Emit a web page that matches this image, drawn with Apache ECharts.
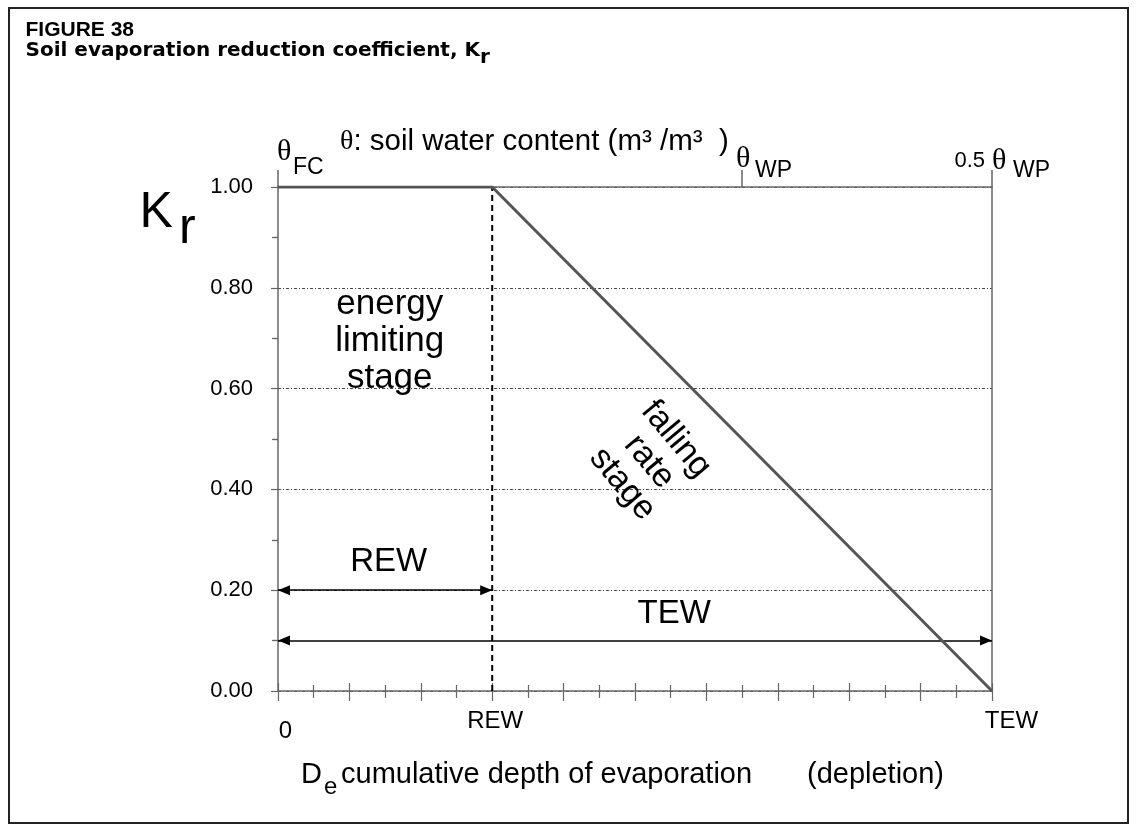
<!DOCTYPE html>
<html>
<head>
<meta charset="utf-8">
<script src="https://cdn.jsdelivr.net/npm/echarts@6/dist/echarts.min.js"></script>
<style>
  html, body { margin: 0; padding: 0; background: #fff; }
  #chart { width: 1136px; height: 831px; }
</style>
</head>
<body>
<div id="chart"></div>
<script>
const SANS = 'Liberation Sans, Arial, Helvetica, sans-serif';
const SERIF = 'Liberation Serif, Times New Roman, serif';
const AXIS_GRAY = '#666';

// Evaporation reduction curve: Kr stays at 1 until REW is depleted, then falls linearly to 0 at TEW
const REW = 6;
const TEW = 20;
const depletion = [0, REW, TEW];
const krValues = [1.0, 1.0, 0.0];

// Labels on the depletion axis
const xLabelValues = [0, REW, TEW];
const xLabelTexts = ['0', 'REW', 'TEW'];

// Kr axis
const yTickStep = 0.2;

// Soil water content marks along the top edge
const thetaValues = [0, 13, TEW];
const thetaPrefix = ['', '', '0.5'];
const thetaSubs = ['FC', 'WP', 'WP'];

// Range arrows: Kr level and depletion span of each
const arrowLevels = [0.2, 0.1];
const arrowEnds = [REW, TEW];

const chart = echarts.init(document.getElementById('chart'), null, { renderer: 'canvas' });

const xLabelRich = {
  s0: { fontSize: 24, fontFamily: SANS, color: '#000', padding: [10, 0, 0, 15] },
  s1: { fontSize: 24, fontFamily: SANS, color: '#000', padding: [0, 0, 0, 6] },
  s2: { fontSize: 24, fontFamily: SANS, color: '#000', padding: [0, 0, 0, 39] }
};

// Text placed inside the plot, anchored in data coordinates
const notes = [
  { at: [3.1, 0.256], text: 'REW', size: 33, rotate: 0, lh: 33 },
  { at: [11.1, 0.152], text: 'TEW', size: 33, rotate: 0, lh: 33 },
  { at: [3.13, 0.694], text: 'energy\nlimiting\nstage', size: 35, rotate: 0, lh: 37 },
  { at: [10.4, 0.455], text: 'falling\nrate\nstage', size: 34, rotate: -50, lh: 35 }
];

const option = {
  animation: false,
  backgroundColor: '#fff',
  grid: { left: 278, right: 144, top: 187, bottom: 140, containLabel: false },
  xAxis: [
    {
      type: 'value', position: 'bottom', min: 0, max: TEW, interval: 2, z: 3,
      axisLine: { show: true, onZero: false, lineStyle: { color: AXIS_GRAY, width: 1.5 } },
      axisTick: { show: true, inside: false, length: 10, lineStyle: { color: AXIS_GRAY, width: 1.2 } },
      minorTick: { show: true, splitNumber: 2, length: 7, lineStyle: { color: AXIS_GRAY, width: 1.2 } },
      splitLine: { show: false },
      axisLabel: {
        show: true, margin: 18, fontSize: 24, fontFamily: SANS, color: '#000',
        formatter: function (v) {
          const i = xLabelValues.indexOf(v);
          return i < 0 ? '' : '{s' + i + '|' + xLabelTexts[i] + '}';
        },
        rich: xLabelRich
      }
    },
    {
      type: 'value', position: 'bottom', min: 0, max: TEW, interval: 2, z: 3,
      axisLine: { show: false, onZero: false },
      axisTick: { show: true, inside: true, length: 8, lineStyle: { color: AXIS_GRAY, width: 1.2 } },
      minorTick: { show: true, splitNumber: 2, length: 6, lineStyle: { color: AXIS_GRAY, width: 1.2 } },
      splitLine: { show: false },
      axisLabel: { show: false }
    },
    {
      type: 'value', position: 'top', min: 0, max: TEW, z: 3,
      axisLine: { show: true, onZero: false, lineStyle: { color: AXIS_GRAY, width: 1.5 } },
      axisTick: { show: true, inside: false, length: 17, customValues: thetaValues, lineStyle: { color: AXIS_GRAY, width: 1.5 } },
      splitLine: { show: false },
      axisLabel: { show: false }
    }
  ],
  yAxis: [
    {
      type: 'value', position: 'left', min: 0, max: 1, interval: yTickStep, z: 1,
      axisLine: { show: true, onZero: false, lineStyle: { color: AXIS_GRAY, width: 1.5 } },
      axisTick: { show: true, inside: false, length: 7, lineStyle: { color: AXIS_GRAY, width: 1.2 } },
      minorTick: { show: true, splitNumber: 2, length: 5, lineStyle: { color: AXIS_GRAY, width: 1.2 } },
      splitLine: { show: true, lineStyle: { color: '#444', width: 1, type: [3, 2, 1, 2] } },
      axisLabel: {
        show: true, margin: 25, fontSize: 22, fontFamily: SANS, color: '#000',
        padding: [8, 0, 0, 0],
        formatter: function (v) { return v.toFixed(2); }
      }
    },
    {
      type: 'value', position: 'left', min: 0, max: 1, interval: yTickStep, z: 1,
      axisLine: { show: false, onZero: false },
      axisTick: { show: false },
      minorTick: { show: true, splitNumber: 2, length: 6, lineStyle: { color: AXIS_GRAY, width: 1.2 } },
      splitLine: { show: false },
      axisLabel: { show: false }
    },
    {
      type: 'value', position: 'right', min: 0, max: 1, z: 3,
      axisLine: { show: true, onZero: false, lineStyle: { color: AXIS_GRAY, width: 1.5 } },
      axisTick: { show: false },
      splitLine: { show: false },
      axisLabel: { show: false }
    }
  ],
  series: [
    {
      name: 'Kr',
      type: 'line', xAxisIndex: 0, yAxisIndex: 0, z: 6,
      symbol: 'none', silent: true,
      lineStyle: { color: '#555', width: 3 },
      data: depletion.map(function (d, i) { return [d, krValues[i]]; })
    },
    {
      name: 'REW limit',
      type: 'line', xAxisIndex: 0, yAxisIndex: 0, z: 5,
      symbol: 'none', silent: true,
      lineStyle: { color: '#000', width: 2, type: [6, 4] },
      data: [[REW, 0], [REW, krValues[0]]],
      markLine: {
        silent: true, animation: false,
        symbol: ['triangle', 'triangle'],
        symbolSize: [10, 12],
        symbolOffset: [[0, '50%'], [0, '50%']],
        label: { show: false },
        emphasis: { disabled: true },
        lineStyle: { color: '#000', width: 1.5, type: 'solid' },
        itemStyle: { color: '#000' },
        data: arrowLevels.map(function (lv, i) {
          return [{ coord: [0, lv] }, { coord: [arrowEnds[i], lv] }];
        })
      }
    },
    {
      name: 'notes',
      type: 'scatter', xAxisIndex: 0, yAxisIndex: 0, z: 8,
      symbol: 'circle', symbolSize: 1, silent: true,
      itemStyle: { color: 'rgba(0,0,0,0)' },
      data: notes.map(function (n) {
        return {
          value: n.at,
          label: {
            show: true, position: 'inside', formatter: n.text,
            fontSize: n.size, lineHeight: n.lh, fontFamily: SANS,
            color: '#000', opacity: 1, textBorderWidth: 0,
            rotate: n.rotate, align: 'center', verticalAlign: 'middle'
          }
        };
      })
    }
  ]
};

chart.setOption(option);

function txt(x, y, text, font, align) {
  return {
    type: 'text', silent: true, z: 20,
    style: {
      x: x, y: y, text: text, font: font, fill: '#000',
      align: align || 'left', verticalAlign: 'middle',
      textAlign: align || 'left', textVerticalAlign: 'middle'
    }
  };
}

const g = [];
// outer frame
g.push({
  type: 'rect', silent: true, z: 1,
  shape: { x: 9, y: 8, width: 1119, height: 815 },
  style: { fill: 'none', stroke: '#222', lineWidth: 2 }
});
// caption
g.push(txt(25.5, 30.5, 'FIGURE 38', 'bold 21px ' + SANS));
g.push({
  type: 'text', silent: true, z: 20,
  style: {
    x: 25.5, y: 54, fill: '#000',
    align: 'left', verticalAlign: 'middle', textAlign: 'left', textVerticalAlign: 'middle',
    text: '{a|Soil evaporation reduction coefficient, K}{b|r}',
    rich: {
      a: { font: 'bold 20px DejaVu Sans, ' + SANS, lineHeight: 20, padding: [0, 0, 7, 0], fill: '#000' },
      b: { font: 'bold 20px DejaVu Sans, ' + SANS, lineHeight: 20, padding: [7, 0, 0, 0], fill: '#000' }
    }
  }
});
// Kr axis name
g.push(txt(139.5, 213.5, 'K', '50px ' + SANS));
g.push(txt(179, 229.5, 'r', '50px ' + SANS));
// soil water content caption
g.push({
  type: 'text', silent: true, z: 20,
  style: {
    x: 340, y: 142, fill: '#000',
    align: 'left', verticalAlign: 'middle', textAlign: 'left', textVerticalAlign: 'middle',
    text: '{t|θ}{s|: soil water content (m³ /m³  )}',
    rich: {
      t: { fontFamily: SERIF, fontSize: 28, fill: '#000' },
      s: { fontFamily: SANS, fontSize: 29.5, fill: '#000' }
    }
  }
});
// theta marks on the top edge
thetaValues.forEach(function (v, i) {
  const px = chart.convertToPixel({ xAxisIndex: 2 }, v);
  if (i === 0) {
    g.push(txt(px - 1, 152.5, 'θ', '30px ' + SERIF));
    g.push(txt(px + 15, 167.5, thetaSubs[i], '23px ' + SANS));
  } else if (thetaPrefix[i] === '') {
    g.push(txt(px + 1, 159, 'θ', '30px ' + SERIF, 'center'));
    g.push(txt(px + 13, 171, thetaSubs[i], '23px ' + SANS));
  } else {
    g.push(txt(px - 7, 160.5, thetaPrefix[i], '22px ' + SANS, 'right'));
    g.push(txt(px, 161, 'θ', '30px ' + SERIF));
    g.push(txt(px + 21, 171, thetaSubs[i], '23px ' + SANS));
  }
});
// depletion axis name
g.push(txt(301, 775, 'D', '29px ' + SANS));
g.push(txt(324, 787, 'e', '24px ' + SANS));
g.push(txt(341, 775, 'cumulative depth of evaporation', '29px ' + SANS));
g.push(txt(807, 775, '(depletion)', '29px ' + SANS));

chart.setOption({ graphic: g });
</script>
</body>
</html>
